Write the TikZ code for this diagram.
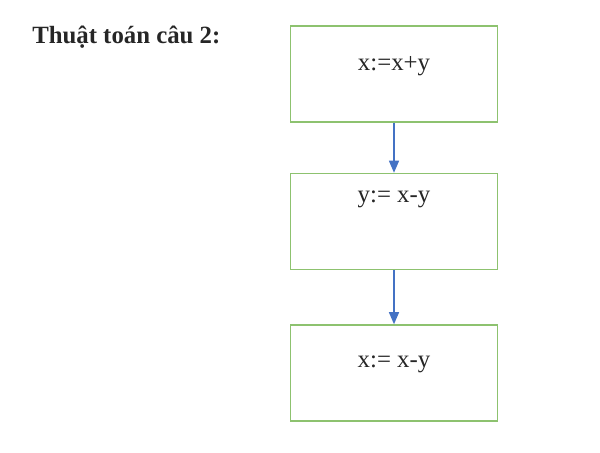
\documentclass[tikz,border=0pt]{standalone}
\usepackage{fontspec}
\setmainfont{Liberation Serif}
\usetikzlibrary{positioning, arrows.meta}
\definecolor{boxgreen}{HTML}{8DC26F}
\definecolor{arrowblue}{HTML}{4472C4}

\tikzset{
    stepbox/.style={
        draw=boxgreen,        % light green border
        line width=1.1pt,
        fill=white,
        minimum width=155pt,  % exact width
        minimum height=72pt,  % exact height
        inner sep=0pt
    },
    steptext/.style={
        anchor=base,
        text=black!85,
        font=\fontsize{18.6}{22}\selectfont
    },
    flowarrow/.style={
        draw=arrowblue,
        line width=1pt,
        -{Triangle[width=7.5pt, length=9pt]}
    }
}

\begin{document}
\begin{tikzpicture}[x=0.75pt, y=-0.75pt]
    \useasboundingbox (0,0) rectangle (600,453);

    % title on the left
    \node[anchor=base west, inner sep=0pt, text=black!85, font=\fontsize{18.6}{22}\selectfont\bfseries]
        (title) at (32,44) {Thuật toán câu 2:};

    % the three steps, one under the other
    \node[stepbox, label={[steptext, yshift=-33.75pt]north:x:=x+y}] (first) at (394,74) {};
    \node[stepbox, below=37.5pt of first,
        label={[steptext, yshift=-22.5pt]north:y:= x-y}] (second) {};
    \node[stepbox, below=40.5pt of second,
        label={[steptext, yshift=-32.25pt]north:x:= x-y}] (third) {};

    \draw[flowarrow] (first) -- (second);
    \draw[flowarrow] (second) -- (third);
\end{tikzpicture}
\end{document}
